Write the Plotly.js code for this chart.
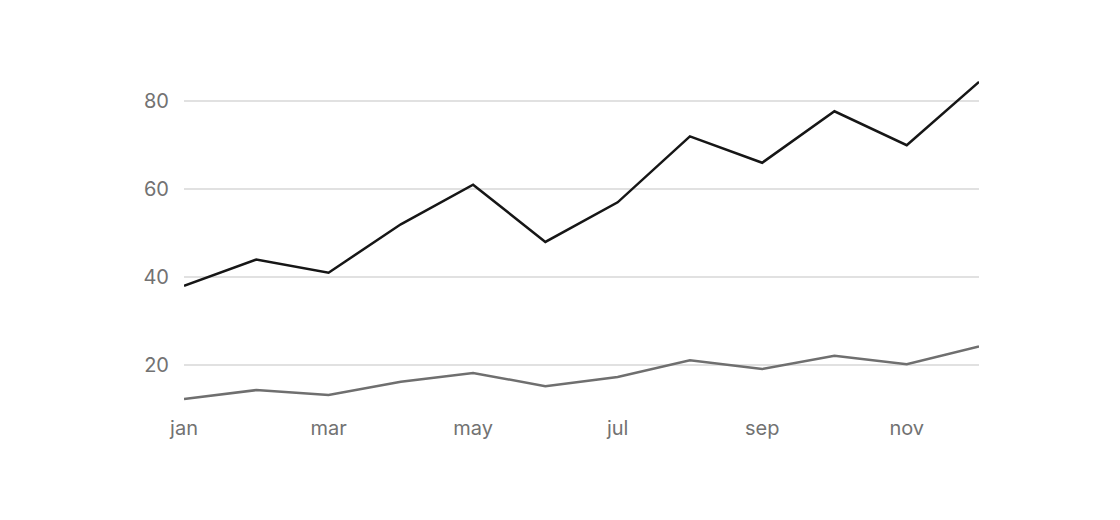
<!DOCTYPE html>
<html>
<head>
<meta charset="utf-8">
<script src="https://cdn.plot.ly/plotly-3.0.1.min.js"></script>
<style>
  html, body { margin: 0; padding: 0; background: #fff; }
  #chart { width: 1120px; height: 520px; }
</style>
</head>
<body>
<div id="chart"></div>
<script>
// datos
const meses = ['jan', 'feb', 'mar', 'apr', 'may', 'jun', 'jul', 'aug', 'sep', 'oct', 'nov', 'dec'];
const serieAlta = [38, 44, 41, 52, 61, 48, 57, 72, 66, 77.7, 70, 84.4];
const serieBaja = [12.3, 14.3, 13.2, 16.2, 18.2, 15.2, 17.3, 21.1, 19.1, 22.1, 20.2, 24.2];
const etiquetasX = ['jan', 'mar', 'may', 'jul', 'sep', 'nov'];
const valoresY = [20, 40, 60, 80];

const trazas = [
    {
        x: meses,
        y: serieBaja,
        type: 'scatter',
        mode: 'lines',
        line: { color: '#6f6f6f', width: 2.5 },
        hoverinfo: 'skip'
    },
    {
        x: meses,
        y: serieAlta,
        type: 'scatter',
        mode: 'lines',
        line: { color: '#161616', width: 2.5 },
        hoverinfo: 'skip'
    }
];

const layout = {
    width: 1120,
    height: 520,
    paper_bgcolor: '#ffffff',
    plot_bgcolor: '#ffffff',
    font: { family: 'Inter, sans-serif', color: '#727272', size: 20 },
    margin: { l: 184, r: 141, t: 66, b: 111 },
    showlegend: false,
    xaxis: {
        type: 'category',
        range: [0, 11],
        tickvals: etiquetasX,
        ticktext: etiquetasX,
        showgrid: false,
        zeroline: false,
        showline: false,
        ticks: '',
        ticklabelstandoff: 5
    },
    yaxis: {
        range: [10, 88],
        tickvals: valoresY,
        showgrid: true,
        gridcolor: '#e1e1e1',
        gridwidth: 2,
        zeroline: false,
        showline: false,
        ticks: '',
        ticklabelstandoff: 14
    }
};

Plotly.newPlot('chart', trazas, layout, { staticPlot: true, displayModeBar: false });
</script>
</body>
</html>
